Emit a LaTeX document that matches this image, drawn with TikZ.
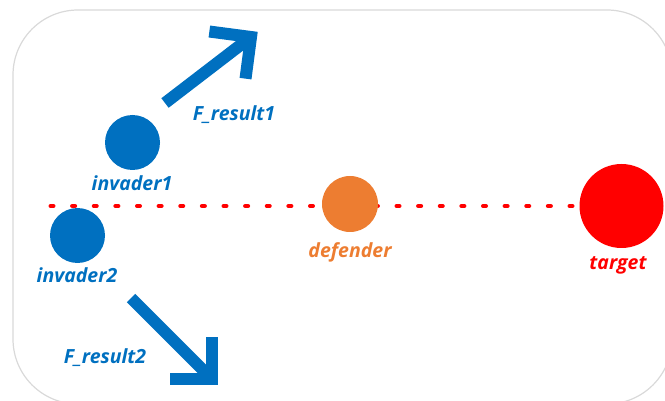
\documentclass[tikz,border=0pt]{standalone}
\usepackage{fontspec}
\setmainfont{Open Sans}
\usetikzlibrary{calc}
\definecolor{forceblue}{HTML}{0070C0}
\definecolor{deforange}{HTML}{ED7D31}
\definecolor{targetred}{HTML}{FF0000}
\definecolor{framegray}{HTML}{D9D9D9}

\begin{document}
\begin{tikzpicture}[x=1pt, y=-1pt,
  ball/.style={circle, inner sep=0pt, minimum size=#1},
  lbl/.style={font=\fontsize{19.5}{22}\selectfont\bfseries\itshape, inner sep=0pt, anchor=base},
  force/.style={line width=12pt, draw=forceblue}]
  \useasboundingbox (0,0) rectangle (665,401);
  \clip (0,0) rectangle (665,401);
  \draw[framegray, line width=1.2pt, rounded corners=65pt] (13,10) rectangle (672,404);

  % line of defence
  \coordinate (S) at (50.5,206);
  \coordinate (E) at (590,206);
  \draw[targetred, line width=4pt, line cap=round, dash pattern=on 3pt off 18.625pt] (S) -- (E);

  \node[ball=55pt, fill=forceblue] (I1) at (132.5,142.5) {};
  \node[ball=55pt, fill=forceblue] (I2) at (77.5,235.5) {};
  \node[ball=56pt, fill=deforange] (D) at (350,204) {};
  \node[ball=84pt, fill=targetred] (T) at (621.5,206) {};

  \node[lbl, text=forceblue] (L1) at (132,191) {invader1};
  \node[lbl, text=forceblue] (L2) at (77,283) {invader2};
  \node[lbl, text=deforange] (L3) at (350,258) {defender};
  \node[lbl, text=targetred] (L4) at (618,270) {target};

  % resulting forces
  \coordinate (A1) at (165,103);
  \coordinate (B1) at (251,37);
  \draw[force] (A1) -- (B1);
  \draw[force, line join=miter] ($(B1)!42pt!45:(A1)$) -- (B1) -- ($(B1)!42pt!-45:(A1)$);
  \node[lbl, text=forceblue] (F1) at (234,121) {F\_result1};

  \coordinate (A2) at (131,298);
  \coordinate (B2) at (212,379);
  \draw[force] (A2) -- (B2);
  \draw[force, line join=miter] ($(B2)!42pt!45:(A2)$) -- (B2) -- ($(B2)!42pt!-45:(A2)$);
  \node[lbl, text=forceblue] (F2) at (105,363) {F\_result2};
\end{tikzpicture}
\end{document}
